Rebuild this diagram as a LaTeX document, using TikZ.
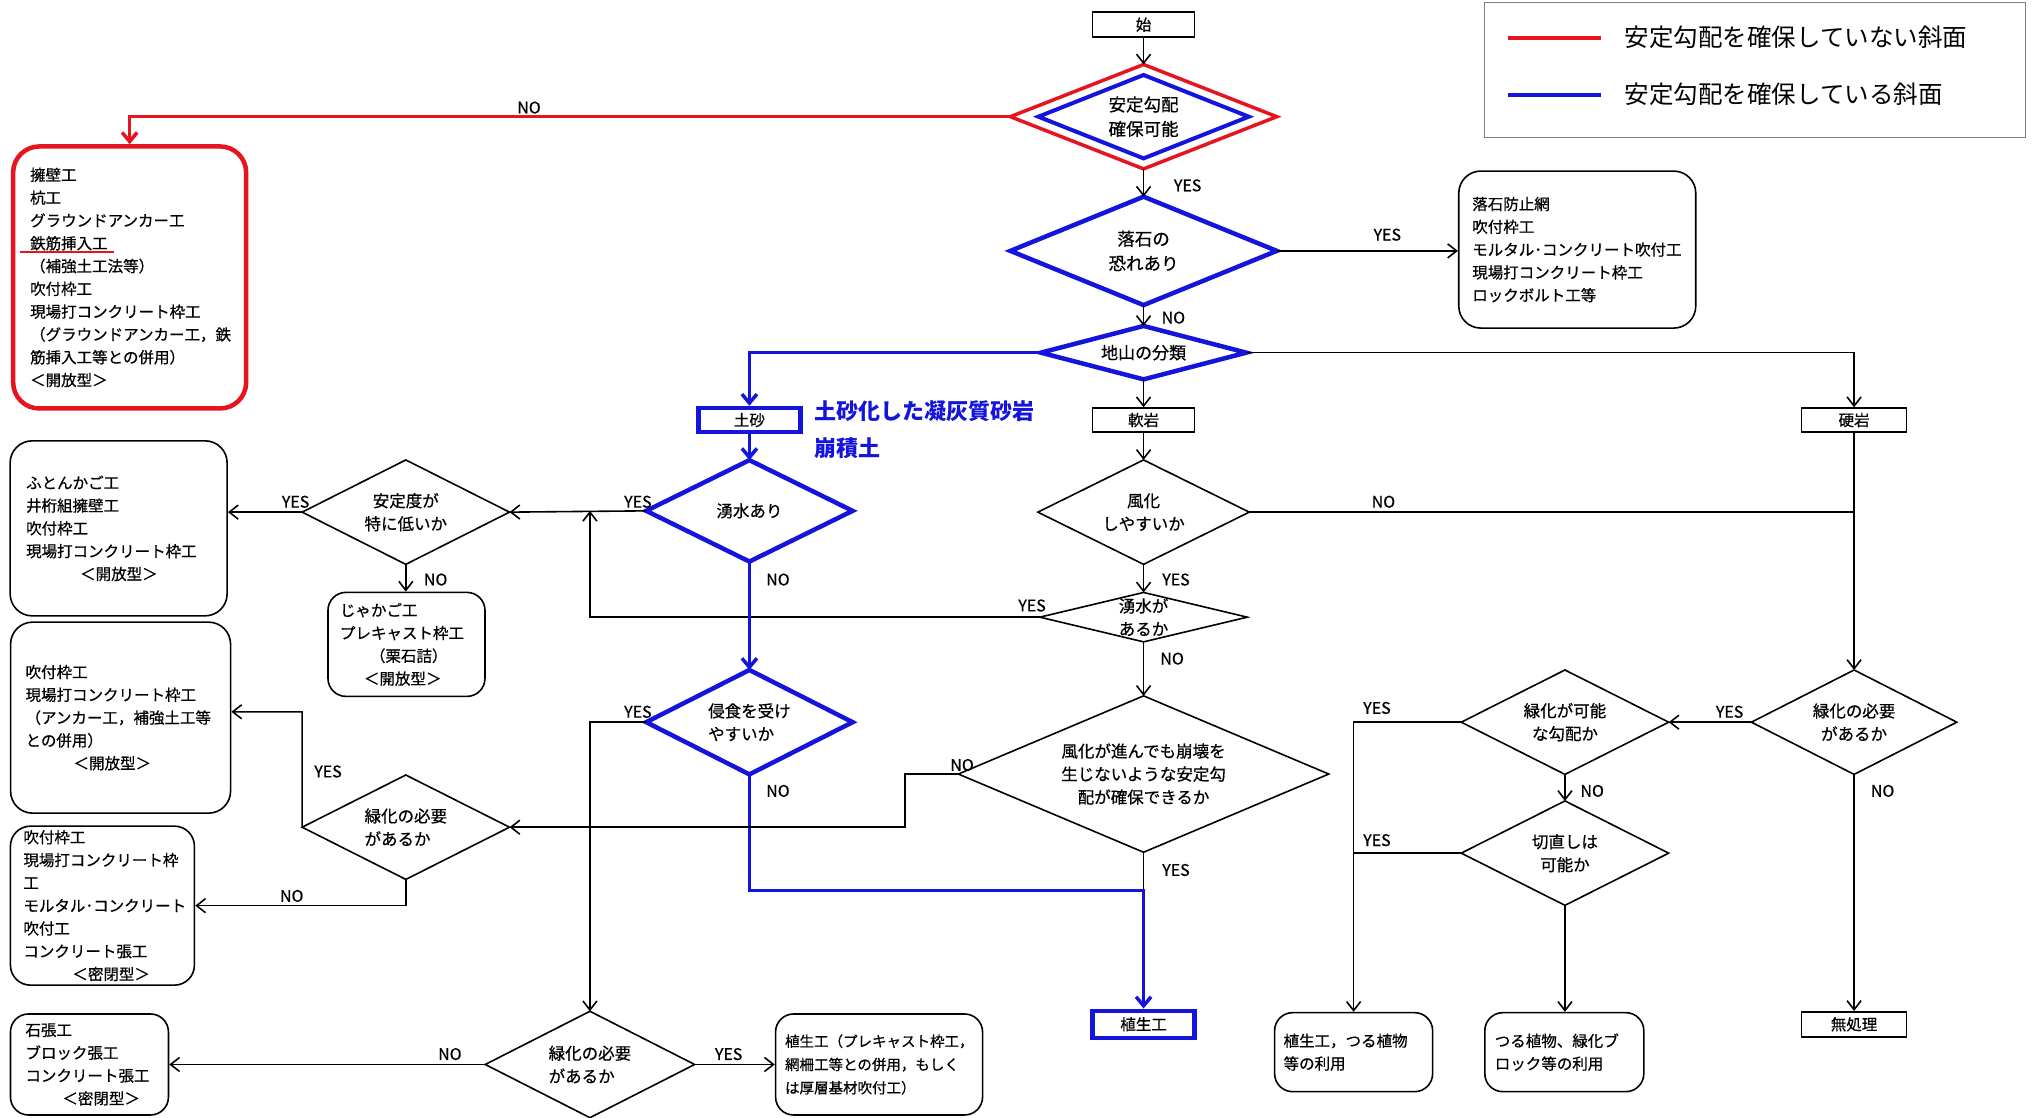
\documentclass[tikz,border=0pt]{standalone}
\usepackage{fontspec}
\usetikzlibrary{arrows.meta}
\newfontfamily\jp[FakeBold=0.6]{Noto Sans CJK JP}
\newfontfamily\jpl{Noto Sans CJK JP}
\definecolor{myblue}{RGB}{20,20,220}
\definecolor{myred}{RGB}{230,20,30}
\tikzset{
  txt/.style={font=\jp\fontsize{15.5}{22.8}\selectfont},
  dtxt/.style={font=\jp\fontsize{16.5}{23}\selectfont},
  sq/.style={txt, draw, line width=1.6pt, inner sep=0pt},
  rb/.style={txt, draw, line width=1.6pt, rounded corners=18pt, inner sep=0pt, align=left},
  dia/.style={dtxt, inner sep=0pt, align=center},
  dial/.style={dtxt, inner sep=0pt, align=left},
  lbl/.style={font=\jp\fontsize{16}{18}\selectfont, inner sep=0pt},
  ln/.style={line width=1.6pt},
  arr/.style={ln, -{Straight Barb[length=9pt,width=14pt]}},
  barr/.style={myblue, line width=3.5pt, -{Straight Barb[length=9pt,width=15pt]}},
  rarr/.style={myred, line width=3.5pt, -{Straight Barb[length=9pt,width=15pt]}},
}
\begin{document}
\begin{tikzpicture}[x=1.2966pt,y=-1.2966pt]
\fill[white] (0,0) rectangle (1568,862);
\useasboundingbox (0,0) rectangle (1568,862);

% legend
\node[draw=gray, line width=1.5pt, minimum width=541pt, minimum height=135pt, inner sep=0pt] (legend) at (1353.5,54) {};
\node[font=\jpl\fontsize{24.5}{28}\selectfont, anchor=west, inner sep=0pt] (leg1) at (1253,29) {安定勾配を確保していない斜面};
\node[font=\jpl\fontsize{24.5}{28}\selectfont, anchor=west, inner sep=0pt] (leg2) at (1253,73) {安定勾配を確保している斜面};
\draw[myred, line width=4pt] (1163,29) -- (1235,29);
\draw[myblue, line width=4pt] (1163,73) -- (1235,73);

% square boxes
\node[sq, minimum width=102pt, minimum height=25pt] (start) at (882,19) {始};
\node[sq, draw=myblue, line width=4.5pt, minimum width=102pt, minimum height=24pt] (dosha) at (578,324) {土砂};
\node[sq, minimum width=102pt, minimum height=24pt] (nangan) at (882,324) {軟岩};
\node[sq, minimum width=105pt, minimum height=24pt] (kougan) at (1430,324) {硬岩};
\node[sq, draw=myblue, line width=4.5pt, minimum width=102pt, minimum height=27pt] (shokusei) at (882,790) {植生工};
\node[sq, minimum width=105pt, minimum height=25pt] (mushori) at (1430,790) {無処理};

% rounded boxes
\node[rb, draw=myred, line width=4.5pt, rounded corners=26pt, minimum width=233pt, minimum height=262pt, text width=199pt] (redbox) at (100,214)
 {擁壁工\\杭工\\グラウンドアンカー工\\鉄筋挿入工\\（補強土工法等）\\吹付枠工\\現場打コンクリート枠工\\（グラウンドアンカー工，鉄\\筋挿入工等との併用）\\＜開放型＞};
\draw[myred, line width=2.5pt] (15.5,194.5) -- (88,194.5);
\node[rb, rounded corners=22pt, minimum width=237pt, minimum height=157pt, text width=210pt] (rakubox) at (1216.5,192.5)
 {落石防止網\\吹付枠工\\モルタル･コンクリート吹付工\\現場打コンクリート枠工\\ロックボルト工等};
\node[rb, rounded corners=22pt, minimum width=217pt, minimum height=175pt, text width=185pt] (futon) at (91.5,407.5)
 {ふとんかご工\\井桁組擁壁工\\吹付枠工\\現場打コンクリート枠工\\\hspace*{54pt}＜開放型＞};
\node[rb, minimum width=157pt, minimum height=104pt, text width=133pt] (jakago) at (313.5,497)
 {じゃかご工\\プレキャスト枠工\\\hspace*{30pt}（栗石詰）\\\hspace*{24pt}＜開放型＞};
\node[rb, rounded corners=22pt, minimum width=220pt, minimum height=191pt, text width=190pt] (anchor) at (93,553.5)
 {吹付枠工\\現場打コンクリート枠工\\（アンカー工，補強土工等\\との併用）\\\hspace*{48pt}＜開放型＞};
\node[rb, rounded corners=20pt, minimum width=184pt, minimum height=159pt, text width=158pt] (mippei) at (79,698.5)
 {吹付枠工\\現場打コンクリート枠\\工\\モルタル･コンクリート\\吹付工\\コンクリート張工\\\hspace*{49pt}＜密閉型＞};
\node[rb, minimum width=158pt, minimum height=101pt, text width=128pt] (ishi) at (69,821)
 {石張工\\ブロック張工\\コンクリート張工\\\hspace*{37pt}＜密閉型＞};
\node[rb, font=\jp\fontsize{14.5}{23.3}\selectfont, minimum width=207pt, minimum height=101pt, text width=188pt] (precast) at (678,821)
 {植生工（プレキャスト枠工，\\網柵工等との併用，もしく\\は厚層基材吹付工）};
\node[rb, minimum width=158pt, minimum height=79pt, text width=140pt] (tsuru1) at (1044,811.5)
 {植生工，つる植物\\等の利用};
\node[rb, minimum width=159pt, minimum height=79pt, text width=139pt] (tsuru2) at (1206.5,811.5)
 {つる植物、緑化ブ\\ロック等の利用};

% diamonds
\node[dia, font=\jp\fontsize{17.5}{24.5}\selectfont, minimum width=266pt, minimum height=104pt] (antei) at (882,90) {安定勾配\\確保可能};
\node[inner sep=0pt, minimum width=210pt, minimum height=83pt] (anteiin) at (882,90) {};
\node[dia, font=\jp\fontsize{17.5}{24.5}\selectfont, minimum width=266pt, minimum height=108pt] (rakuseki) at (882,193.5) {落石の\\恐れあり};
\node[dia, font=\jp\fontsize{17}{24}\selectfont, minimum width=205pt, minimum height=53pt] (jiyama) at (882,272) {地山の分類};
\node[dia, minimum width=206pt, minimum height=101pt] (yusui) at (578,394) {湧水あり};
\node[dia, minimum width=207pt, minimum height=104pt] (anteido) at (313,395) {安定度が\\特に低いか};
\node[dia, minimum width=211pt, minimum height=104pt] (fuka) at (882,395) {風化\\しやすいか};
\node[dia, minimum width=207pt, minimum height=49pt] (yusui2) at (882,476) {湧水が\\あるか};
\node[dia, minimum width=370pt, minimum height=156pt] (fukaprog) at (882,597) {風化が進んでも崩壊を\\生じないような安定勾\\配が確保できるか};
\node[dial, minimum width=206pt, minimum height=104pt] (shinshoku) at (578,557) {侵食を受け\\やすいか};
\node[dial, minimum width=207pt, minimum height=104pt] (ryoka1) at (313,638) {緑化の必要\\があるか};
\node[dial, minimum width=209pt, minimum height=106pt] (ryoka2) at (455,821) {緑化の必要\\があるか};
\node[dia, minimum width=205pt, minimum height=104pt] (ryoka3) at (1430,557) {緑化の必要\\があるか};
\node[dia, minimum width=207pt, minimum height=104pt] (kanou) at (1207,557) {緑化が可能\\な勾配か};
\node[dia, minimum width=207pt, minimum height=104pt] (kirinaoshi) at (1207,658) {切直しは\\可能か};

% diamond outlines
\draw[myred, line width=3.5pt] (antei.north) -- (antei.east) -- (antei.south) -- (antei.west) -- cycle;
\draw[myblue, line width=4pt] (anteiin.north) -- (anteiin.east) -- (anteiin.south) -- (anteiin.west) -- cycle;
\foreach \n in {rakuseki,jiyama,yusui,shinshoku}
  \draw[myblue, line width=4.5pt] (\n.north) -- (\n.east) -- (\n.south) -- (\n.west) -- cycle;
\foreach \n in {anteido,fuka,yusui2,fukaprog,ryoka1,ryoka2,ryoka3,kanou,kirinaoshi}
  \draw[ln] (\n.north) -- (\n.east) -- (\n.south) -- (\n.west) -- cycle;

% blue annotation
\node[font=\jpl\bfseries\fontsize{22}{26}\selectfont, text=myblue, anchor=west, inner sep=0pt] (ann1) at (628,317) {土砂化した凝灰質砂岩};
\node[font=\jpl\bfseries\fontsize{22}{26}\selectfont, text=myblue, anchor=west, inner sep=0pt] (ann2) at (628,346) {崩積土};

% connectors
\draw[arr] (start.south) -- (antei.north);
\draw[rarr] (antei.west) -| (redbox.north);
\draw[arr] (antei.south) -- (rakuseki.north);
\draw[arr] (rakuseki.east) -- (rakuseki.east -| rakubox.west);
\draw[arr] (rakuseki.south) -- (jiyama.north);
\draw[barr] (jiyama.west) -| (dosha.north);
\draw[arr] (jiyama.east) -| (kougan.north);
\draw[arr] (jiyama.south) -- (nangan.north);
\draw[barr] (dosha.south) -- (yusui.north);
\draw[arr] (yusui.west) -- (anteido.east);
\draw[arr] (anteido.west) -- (anteido.west -| futon.east);
\draw[arr] (anteido.south) -- (anteido.south |- jakago.north);
\draw[arr] (nangan.south) -- (fuka.north);
\draw[ln] (fuka.east) -- (fuka.east -| kougan.south);
\draw[arr] (kougan.south) -- (ryoka3.north);
\draw[arr] (fuka.south) -- (yusui2.north);
\coordinate (c17) at (ryoka2.north |- yusui2.west);
\draw[arr] (yusui2.west) -- (c17) -- (c17 |- yusui.west);
\draw[arr] (yusui2.south) -- (fukaprog.north);
\draw[barr] (yusui.south) -- (shinshoku.north);
\draw[arr] (shinshoku.west) -| (ryoka2.north);
\coordinate (j1) at (882,687);
\draw[ln] (fukaprog.south) -- (j1);
\draw[barr] (shinshoku.south) |- (j1) -- (shokusei.north);
\coordinate (c23) at (698,597);
\draw[arr] (fukaprog.west) -- (c23) |- (ryoka1.east);
\coordinate (c24) at (233,549);
\draw[arr] (ryoka1.west) -- (c24) -- (c24 -| anchor.east);
\draw[arr] (ryoka1.south) |- (mippei.east);
\draw[arr] (ryoka2.west) -- (ryoka2.west -| ishi.east);
\draw[arr] (ryoka2.east) -- (ryoka2.east -| precast.west);
\draw[arr] (ryoka3.west) -- (kanou.east);
\draw[arr] (ryoka3.south) -- (mushori.north);
\draw[arr] (kanou.west) -| (tsuru1.north);
\draw[arr] (kanou.south) -- (kirinaoshi.north);
\draw[ln] (kirinaoshi.west) -- (kirinaoshi.west -| tsuru1.north);
\draw[arr] (kirinaoshi.south) -- (kirinaoshi.south |- tsuru2.north);

% labels
\node[lbl] (l1) at (408,83) {NO};
\node[lbl] (l2) at (916,143) {YES};
\node[lbl] (l3) at (1070,181) {YES};
\node[lbl] (l4) at (905,245) {NO};
\node[lbl] (l5) at (492,387) {YES};
\node[lbl] (l6) at (228,387) {YES};
\node[lbl] (l7) at (336,447) {NO};
\node[lbl] (l8) at (600,447) {NO};
\node[lbl] (l9) at (1067,387) {NO};
\node[lbl] (l10) at (907,447) {YES};
\node[lbl] (l11) at (796,467) {YES};
\node[lbl] (l12) at (904,508) {NO};
\node[lbl] (l13) at (492,549) {YES};
\node[lbl] (l14) at (600,610) {NO};
\node[lbl] (l15) at (742,590) {NO};
\node[lbl] (l16) at (907,671) {YES};
\node[lbl] (l17) at (253,595) {YES};
\node[lbl] (l18) at (225,691) {NO};
\node[lbl] (l19) at (347,813) {NO};
\node[lbl] (l20) at (562,813) {YES};
\node[lbl] (l21) at (1334,549) {YES};
\node[lbl] (l22) at (1452,610) {NO};
\node[lbl] (l23) at (1062,546) {YES};
\node[lbl] (l24) at (1228,610) {NO};
\node[lbl] (l25) at (1062,648) {YES};
\end{tikzpicture}
\end{document}
